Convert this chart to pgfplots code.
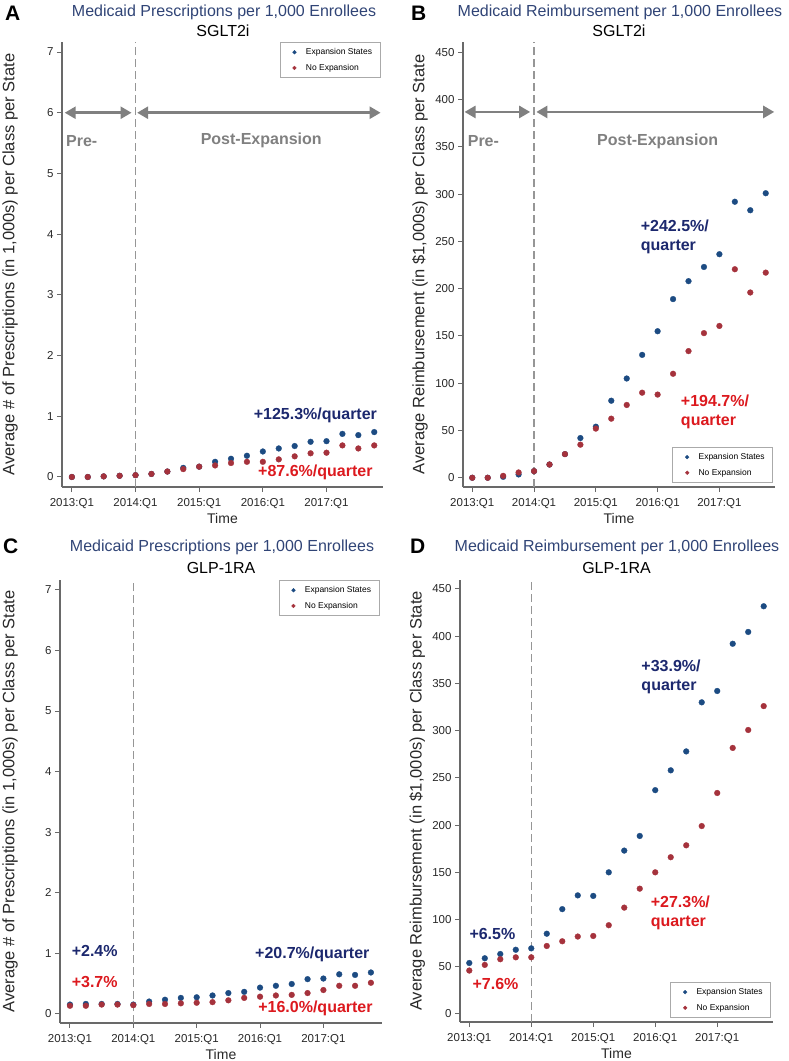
\documentclass[border=0pt]{standalone}
\usepackage{fontspec}
\setmainfont{Liberation Sans}
\usepackage{pgfplots}
\pgfplotsset{compat=1.18}
\usepackage{pgfplotstable}
\usetikzlibrary{arrows.meta}

\definecolor{markblue}{RGB}{28,75,130}
\definecolor{markred}{RGB}{165,50,60}
\definecolor{textnavy}{RGB}{28,40,110}
\definecolor{textred}{RGB}{220,25,30}
\definecolor{titleblue}{RGB}{48,68,118}
\definecolor{arrowgray}{RGB}{128,128,128}
\definecolor{dashgray}{RGB}{150,150,150}
\definecolor{axisgray}{RGB}{105,105,105}
\definecolor{ticktext}{RGB}{40,40,40}
\definecolor{legendgray}{RGB}{170,170,170}

\pgfplotstableread{
q  Ae   An   Be    Bn    Ce   Cn   De    Dn
0  0.00 0.00 0     0     0.15 0.13 54    46
1  0.00 0.00 0     0     0.16 0.13 59    52
2  0.01 0.01 1     2     0.16 0.15 63.5  58
3  0.02 0.02 3.5   5.6   0.16 0.15 68    60
4  0.03 0.03 7     7     0.15 0.14 69.5  60
5  0.05 0.05 14    14    0.20 0.16 85    72
6  0.09 0.09 25    25    0.23 0.16 111   77
7  0.15 0.13 42    35    0.26 0.17 125.6 82
8  0.17 0.17 54    52    0.27 0.18 125   82.6
9  0.25 0.19 81.5  62.5  0.30 0.19 150   94
10 0.30 0.23 105   77    0.34 0.22 173   112.6
11 0.35 0.25 130   90    0.36 0.26 188.5 132.7
12 0.42 0.25 155   88    0.43 0.28 237   150
13 0.47 0.29 189   110   0.46 0.30 258   166
14 0.51 0.34 208   134   0.49 0.31 278   178.6
15 0.58 0.39 223   153   0.57 0.34 330   199
16 0.59 0.40 236.5 160.6 0.58 0.39 342   234
17 0.71 0.52 292   220.6 0.65 0.46 392   281.7
18 0.69 0.47 283   196   0.64 0.46 404.5 300.7
19 0.74 0.52 301   217   0.68 0.51 431.7 326
}\datatable

\tikzset{
  ann/.style={font=\fontsize{16}{19.5}\selectfont\bfseries, inner sep=0pt},
  dblarrow/.style={arrowgray, line width=2.5pt, {Triangle[length=11pt,width=12pt]}-{Triangle[length=11pt,width=12pt]}},
}

\pgfplotsset{
  panel/.style={
    scale only axis, anchor=north west, clip=false,
    axis x line=bottom, axis y line=left,
    axis line style={-, draw=axisgray, line width=1.1pt},
    tick align=outside, major tick length=5pt,
    tick style={draw=axisgray, line width=1pt},
    xtick={0,4,8,12,16},
    xticklabels={2013:Q1,2014:Q1,2015:Q1,2016:Q1,2017:Q1},
    ticklabel style={font=\fontsize{11.5}{13}\selectfont, text=ticktext},
    xticklabel style={yshift=-3pt},
    /pgf/number format/assume math mode=true,
    xlabel={Time},
    xlabel style={at={(rel axis cs:0.5,-0.071)}, anchor=center, font=\fontsize{14}{16}\selectfont, text=ticktext},
    ylabel style={anchor=center, font=\fontsize{16.5}{18}\selectfont, text=ticktext},
    xmin=-0.62, xmax=19.55,
    legend style={draw=legendgray, line width=0.8pt, font=\fontsize{8.5}{10}\selectfont,
      inner xsep=6pt, inner ysep=4pt, row sep=4pt, cells={anchor=west}},
    legend image code/.code={\path (0pt,0pt) (17pt,0pt); \draw[##1, mark size=1.9pt] plot coordinates {(8pt,0pt)};},
  },
  expo/.style={only marks, mark=*, mark size=2.9pt, color=markblue, mark options={solid, fill=markblue, draw=markblue, line width=0.3pt}},
  noexp/.style={only marks, mark=*, mark size=2.9pt, color=markred, mark options={solid, fill=markred, draw=markred, line width=0.3pt}},
  vdash/.style={forget plot, dashgray, line width=1.2pt, dash pattern=on 8pt off 4pt},
}

\begin{document}
\begin{tikzpicture}
\path[use as bounding box] (0pt,0pt) rectangle (788pt,-1061pt);

% panel letters and titles
\node[anchor=base west, inner sep=0pt, font=\fontsize{21}{24}\selectfont\bfseries] at (5pt,-20.5pt) {A};
\node[anchor=base west, inner sep=0pt, font=\fontsize{21}{24}\selectfont\bfseries] at (411pt,-20.5pt) {B};
\node[anchor=base west, inner sep=0pt, font=\fontsize{21}{24}\selectfont\bfseries] at (3pt,-553pt) {C};
\node[anchor=base west, inner sep=0pt, font=\fontsize{21}{24}\selectfont\bfseries] at (410pt,-553pt) {D};

\node[anchor=base, inner sep=0pt, text=titleblue, font=\fontsize{16}{18}\selectfont] at (224pt,-16.9pt) {Medicaid Prescriptions per 1,000 Enrollees};
\node[anchor=base, inner sep=0pt, font=\fontsize{16}{18}\selectfont] at (223pt,-36.3pt) {SGLT2i};
\node[anchor=base, inner sep=0pt, text=titleblue, font=\fontsize{16}{18}\selectfont] at (620pt,-16.9pt) {Medicaid Reimbursement per 1,000 Enrollees};
\node[anchor=base, inner sep=0pt, font=\fontsize{16}{18}\selectfont] at (619pt,-36.3pt) {SGLT2i};
\node[anchor=base, inner sep=0pt, text=titleblue, font=\fontsize{16}{18}\selectfont] at (222pt,-551.9pt) {Medicaid Prescriptions per 1,000 Enrollees};
\node[anchor=base, inner sep=0pt, font=\fontsize{16}{18}\selectfont] at (221pt,-573.3pt) {GLP-1RA};
\node[anchor=base, inner sep=0pt, text=titleblue, font=\fontsize{16}{18}\selectfont] at (617pt,-551.9pt) {Medicaid Reimbursement per 1,000 Enrollees};
\node[anchor=base, inner sep=0pt, font=\fontsize{16}{18}\selectfont] at (616.5pt,-573.3pt) {GLP-1RA};

% ---------------- Panel A ----------------
\begin{axis}[panel, at={(62pt,-42pt)}, width=321pt, height=445pt,
  ymin=-0.165, ymax=7.165, ytick={0,1,...,7},
  ylabel={Average \# of Prescriptions (in 1,000s) per Class per State},
  ylabel style={at={(rel axis cs:-0.162,0.5)}},
  legend style={at={(rel axis cs:0.992,1)}, anchor=north east}]
\addplot[vdash] coordinates {(4,-0.165) (4,7.165)};
\addplot[expo] table[x=q, y=Ae] {\datatable};
\addlegendentry{Expansion States}
\addplot[noexp] table[x=q, y=An] {\datatable};
\addlegendentry{No Expansion}
\draw[dblarrow] (axis cs:-0.45,6) -- (axis cs:3.75,6);
\draw[dblarrow] (axis cs:4.1,6) -- (axis cs:19.4,6);
\node[ann, text=arrowgray, anchor=west] at (axis cs:-0.37,5.54) {Pre-};
\node[ann, text=arrowgray] at (axis cs:11.9,5.54) {Post-Expansion};
\node[ann, text=textnavy] at (axis cs:15.3,1.02) {+125.3\%/quarter};
\node[ann, text=textred] at (axis cs:15.3,0.07) {+87.6\%/quarter};
\end{axis}

% ---------------- Panel B ----------------
\begin{axis}[panel, at={(463pt,-42pt)}, width=312pt, height=445pt,
  ymin=-9.8, ymax=461, ytick={0,50,...,450}, xmin=-0.6, xmax=19.6,
  ylabel={Average Reimbursement (in \$1,000s) per Class per State},
  ylabel style={at={(rel axis cs:-0.138,0.5)}},
  legend style={at={(rel axis cs:0.994,0.009)}, anchor=south east}]
\addplot[vdash] coordinates {(4,-9.8) (4,461)};
\addplot[expo] table[x=q, y=Be] {\datatable};
\addlegendentry{Expansion States}
\addplot[noexp] table[x=q, y=Bn] {\datatable};
\addlegendentry{No Expansion}
\draw[dblarrow] (axis cs:-0.5,387) -- (axis cs:3.75,387);
\draw[dblarrow] (axis cs:4.15,387) -- (axis cs:19.55,387);
\node[ann, text=arrowgray, anchor=west] at (axis cs:-0.3,356) {Pre-};
\node[ann, text=arrowgray] at (axis cs:12,356) {Post-Expansion};
\node[ann, text=textnavy, anchor=west, align=left] at (axis cs:10.9,255) {+242.5\%/\\quarter};
\node[ann, text=textred, anchor=west, align=left] at (axis cs:13.5,69.6) {+194.7\%/\\quarter};
\end{axis}

% ---------------- Panel C ----------------
\begin{axis}[panel, at={(60pt,-580pt)}, width=322pt, height=443pt,
  ymin=-0.155, ymax=7.165, ytick={0,1,...,7}, xmin=-0.63, xmax=19.7,
  ylabel={Average \# of Prescriptions (in 1,000s) per Class per State},
  ylabel style={at={(rel axis cs:-0.155,0.5)}},
  legend style={at={(rel axis cs:0.992,1)}, anchor=north east}]
\addplot[vdash] coordinates {(4,-0.155) (4,7.165)};
\addplot[expo] table[x=q, y=Ce] {\datatable};
\addlegendentry{Expansion States}
\addplot[noexp] table[x=q, y=Cn] {\datatable};
\addlegendentry{No Expansion}
\node[ann, text=textnavy, anchor=west] at (axis cs:0.1,1.03) {+2.4\%};
\node[ann, text=textred, anchor=west] at (axis cs:0.1,0.52) {+3.7\%};
\node[ann, text=textnavy] at (axis cs:15.3,0.985) {+20.7\%/quarter};
\node[ann, text=textred] at (axis cs:15.5,0.09) {+16.0\%/quarter};
\end{axis}

% ---------------- Panel D ----------------
\begin{axis}[panel, at={(460pt,-580pt)}, width=313pt, height=442pt,
  ymin=-8.5, ymax=459.5, ytick={0,50,...,450}, xmin=-0.6, xmax=19.6,
  ylabel={Average Reimbursement (in \$1,000s) per Class per State},
  ylabel style={at={(rel axis cs:-0.137,0.5)}},
  legend style={at={(rel axis cs:0.994,0.009)}, anchor=south east}]
\addplot[vdash] coordinates {(4,-8.5) (4,459.5)};
\addplot[expo] table[x=q, y=De] {\datatable};
\addlegendentry{Expansion States}
\addplot[noexp] table[x=q, y=Dn] {\datatable};
\addlegendentry{No Expansion}
\node[ann, text=textnavy, anchor=west, align=left] at (axis cs:11.1,357) {+33.9\%/\\quarter};
\node[ann, text=textred, anchor=west, align=left] at (axis cs:11.7,107) {+27.3\%/\\quarter};
\node[ann, text=textnavy, anchor=west] at (axis cs:0.0,85) {+6.5\%};
\node[ann, text=textred, anchor=west] at (axis cs:0.2,32) {+7.6\%};
\end{axis}
\end{tikzpicture}
\end{document}
